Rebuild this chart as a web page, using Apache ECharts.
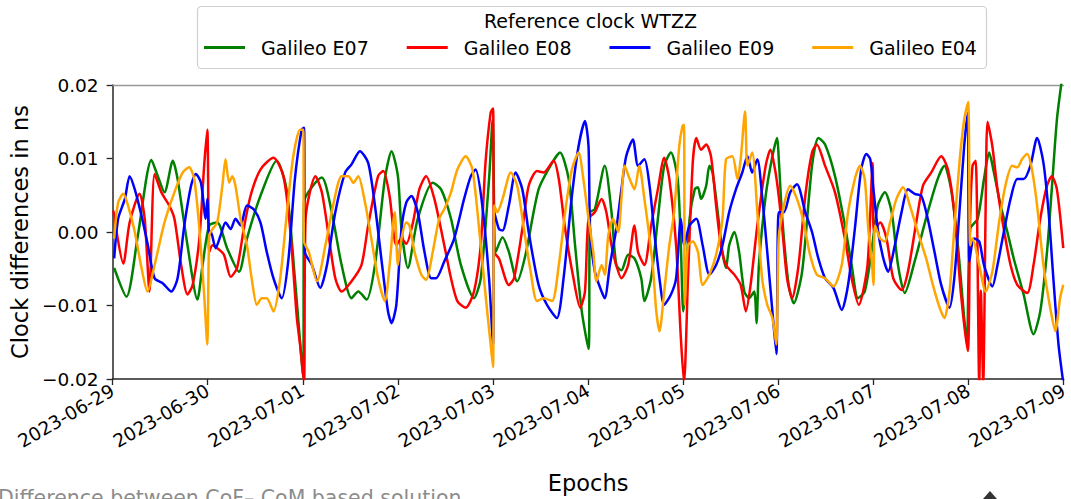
<!DOCTYPE html>
<html>
<head>
<meta charset="utf-8">
<script src="https://cdn.jsdelivr.net/npm/echarts@6/dist/echarts.min.js"></script>
<style>
html,body{margin:0;padding:0;background:#fff;}
#chart{width:1071px;height:499px;}
</style>
</head>
<body>
<div id="chart"></div>
<script>
// ---- data: [hours since 2023-06-29 00:00, clock difference in ns] ----
const e07 = [[0.4,-0.0049],[3.5,-0.0088],[6.4,-0.0004],[9.8,0.0098],[11.4,0.0076],[13.1,0.0054],[15.2,0.0097],[16.4,0.0072],[18.9,-0.0018],[21.4,-0.0092],[22.7,-0.0045],[24.4,0.0009],[26.4,0.0013],[28.9,-0.0022],[31.9,-0.0054],[33.9,-0.0009],[37.3,0.0049],[41.4,0.0097],[43.9,0.0058],[46.0,-0.0063],[48.1,-0.0198],[48.3,0.0040],[52.8,0.0074],[55.3,0.0027],[57.8,-0.0045],[60.3,-0.0090],[62.0,-0.0081],[64.1,-0.0092],[66.2,-0.0045],[68.7,0.0072],[70.4,0.0110],[72.0,0.0076],[72.9,0.0004],[74.5,-0.0049],[77.0,0.0018],[80.8,0.0067],[82.9,0.0058],[85.4,0.0018],[87.9,-0.0045],[91.2,-0.0090],[92.9,-0.0063],[95.0,0.0072],[95.9,0.0153],[96.7,-0.0027],[98.4,-0.0007],[100.0,-0.0027],[102.1,-0.0067],[104.2,-0.0031],[107.5,0.0058],[110.9,0.0094],[112.9,0.0108],[115.1,0.0072],[116.7,-0.0018],[118.4,-0.0108],[120.1,-0.0159],[120.5,0.0027],[121.7,0.0031],[124.2,0.0090],[125.9,0.0027],[127.1,-0.0045],[128.4,-0.0052],[130.1,-0.0031],[131.7,-0.0036],[133.4,-0.0063],[134.2,-0.0094],[135.9,-0.0063],[137.6,0.0018],[139.2,0.0090],[140.9,0.0108],[142.6,0.0072],[143.4,-0.0018],[144.0,-0.0108],[145.6,0.0018],[146.9,0.0058],[147.7,0.0061],[148.5,0.0045],[149.8,0.0063],[150.6,0.0090],[151.4,0.0081],[152.7,0.0027],[153.9,-0.0027],[154.8,-0.0049],[155.6,-0.0018],[156.9,0.0000],[158.1,-0.0027],[159.4,-0.0081],[160.6,-0.0090],[161.9,-0.0081],[162.5,-0.0124],[163.1,-0.0045],[164.8,0.0049],[166.5,0.0103],[167.7,0.0128],[168.1,0.0100],[169.0,0.0018],[170.6,-0.0072],[171.9,-0.0097],[174.0,-0.0054],[176.5,0.0090],[178.1,0.0128],[179.8,0.0119],[182.3,0.0076],[184.8,0.0009],[186.5,-0.0045],[188.1,-0.0090],[189.8,-0.0081],[191.5,-0.0027],[193.1,0.0036],[194.9,0.0054],[196.6,0.0027],[198.2,-0.0045],[199.9,-0.0083],[202.4,-0.0040],[205.7,0.0027],[208.2,0.0072],[209.9,0.0090],[211.6,0.0058],[213.3,-0.0018],[214.9,-0.0117],[215.6,-0.0153],[216.4,0.0004],[218.3,0.0018],[219.9,0.0072],[221.2,0.0108],[222.4,0.0081],[224.1,0.0036],[225.8,0.0000],[227.4,-0.0036],[229.9,-0.0085],[232.4,-0.0139],[234.1,-0.0108],[235.8,-0.0027],[237.0,0.0058],[238.3,0.0153],[239.5,0.0205]];

const e08 = [[0.2,0.0029],[2.7,-0.0043],[4.3,0.0013],[6.8,0.0052],[8.1,0.0018],[9.3,-0.0081],[10.6,0.0079],[12.3,0.0054],[14.3,0.0036],[15.6,0.0018],[17.3,-0.0045],[18.9,-0.0085],[20.2,-0.0072],[21.9,-0.0009],[23.1,0.0090],[23.9,0.0139],[24.4,-0.0027],[25.2,-0.0018],[26.4,-0.0022],[28.1,-0.0031],[29.8,-0.0061],[31.4,-0.0049],[33.1,0.0004],[34.8,0.0049],[37.3,0.0085],[40.6,0.0101],[43.1,0.0076],[44.8,0.0004],[46.5,-0.0117],[47.3,-0.0153],[48.3,-0.0205],[48.7,0.0018],[51.2,0.0076],[52.8,0.0054],[54.5,-0.0004],[56.2,-0.0063],[57.8,-0.0081],[60.3,-0.0067],[62.8,-0.0045],[64.5,0.0009],[67.0,0.0076],[68.3,0.0083],[69.9,0.0049],[71.6,-0.0018],[72.9,-0.0009],[74.1,-0.0016],[75.8,0.0013],[77.4,0.0058],[79.1,0.0076],[81.2,0.0045],[83.7,-0.0018],[85.4,-0.0063],[87.0,-0.0094],[89.1,-0.0103],[91.2,-0.0081],[92.9,-0.0018],[94.1,0.0094],[95.4,0.0162],[96.0,0.0168],[96.3,-0.0027],[97.5,-0.0036],[100.0,-0.0072],[101.3,-0.0063],[103.4,0.0004],[105.0,0.0063],[107.1,0.0083],[108.8,0.0081],[111.3,0.0097],[112.6,0.0072],[114.2,0.0004],[116.3,-0.0063],[118.0,-0.0103],[119.2,-0.0081],[120.1,0.0018],[121.7,0.0027],[123.4,0.0045],[124.6,0.0027],[125.9,-0.0018],[127.1,-0.0045],[128.4,-0.0063],[130.1,-0.0045],[131.7,0.0009],[132.6,-0.0027],[134.2,-0.0045],[135.9,0.0009],[137.6,0.0058],[139.2,0.0101],[140.5,0.0072],[142.2,-0.0018],[143.4,-0.0144],[144.2,-0.0205],[145.2,-0.0063],[146.4,0.0094],[147.3,0.0128],[148.5,0.0112],[149.8,0.0119],[151.0,0.0103],[152.3,0.0036],[153.5,-0.0018],[154.8,-0.0045],[156.9,-0.0058],[158.5,-0.0072],[159.8,-0.0108],[161.0,-0.0072],[162.7,0.0009],[164.8,0.0090],[166.0,0.0112],[167.3,0.0081],[168.1,0.0049],[169.0,0.0004],[170.2,-0.0063],[171.5,-0.0090],[173.1,-0.0045],[174.8,0.0049],[176.5,0.0108],[177.7,0.0119],[179.8,0.0090],[182.3,0.0054],[184.8,-0.0009],[186.5,-0.0063],[188.3,-0.0099],[190.5,-0.0045],[191.8,0.0094],[192.1,0.0000],[193.7,0.0013],[195.3,-0.0009],[197.0,-0.0063],[199.1,-0.0079],[200.7,-0.0054],[202.8,0.0013],[204.5,0.0063],[206.6,0.0081],[209.1,0.0103],[210.8,0.0085],[212.4,0.0027],[214.1,-0.0085],[215.8,-0.0162],[216.4,0.0018],[217.0,0.0090],[217.8,0.0097],[218.7,-0.0205],[219.1,-0.0080],[219.7,-0.0205],[220.3,0.0027],[220.8,0.0150],[222.0,0.0117],[223.3,0.0058],[224.9,0.0004],[226.6,-0.0045],[228.3,-0.0072],[230.8,-0.0083],[232.4,-0.0045],[234.1,0.0018],[235.8,0.0063],[237.0,0.0076],[238.3,0.0058],[239.9,-0.0022]];

const e09 = [[0.4,-0.0036],[1.4,0.0018],[3.1,0.0045],[4.3,0.0076],[5.6,0.0058],[7.3,0.0022],[8.9,-0.0018],[10.6,-0.0063],[12.7,-0.0070],[14.8,-0.0081],[16.4,-0.0063],[18.1,0.0009],[19.8,0.0063],[21.0,0.0079],[22.3,0.0067],[23.5,0.0018],[23.9,0.0045],[24.4,-0.0004],[24.8,0.0000],[26.0,-0.0022],[27.3,-0.0004],[28.5,0.0013],[29.8,0.0004],[31.0,0.0018],[32.3,0.0009],[33.9,0.0036],[35.6,0.0031],[37.3,0.0013],[38.9,-0.0027],[40.6,-0.0063],[42.7,-0.0090],[44.4,-0.0036],[46.0,0.0072],[47.7,0.0139],[48.3,0.0142],[48.5,-0.0027],[50.3,-0.0045],[52.4,-0.0076],[54.1,-0.0045],[56.2,0.0027],[58.7,0.0081],[60.3,0.0092],[62.4,0.0110],[64.5,0.0094],[66.2,0.0036],[67.9,-0.0040],[69.5,-0.0108],[70.4,-0.0124],[71.6,-0.0099],[72.9,0.0004],[74.1,0.0040],[75.4,0.0049],[77.0,0.0027],[78.7,-0.0027],[80.4,-0.0063],[81.6,-0.0063],[83.7,-0.0040],[86.2,-0.0009],[88.7,0.0045],[90.4,0.0076],[91.6,0.0085],[93.3,0.0036],[95.0,-0.0063],[96.0,-0.0153],[96.3,0.0027],[97.5,0.0004],[98.4,0.0002],[100.0,0.0036],[101.7,0.0081],[103.4,0.0058],[105.0,0.0000],[107.5,-0.0072],[109.6,-0.0099],[112.1,-0.0117],[113.8,-0.0063],[115.9,0.0049],[117.6,0.0117],[119.2,0.0151],[120.1,0.0117],[120.5,0.0004],[121.7,-0.0054],[123.4,-0.0081],[124.2,-0.0090],[125.5,-0.0045],[127.1,0.0004],[128.4,0.0058],[129.6,0.0103],[131.3,0.0126],[132.6,0.0090],[134.2,0.0099],[135.5,0.0063],[136.7,0.0000],[138.0,-0.0063],[139.2,-0.0099],[140.9,-0.0085],[142.2,-0.0063],[143.4,0.0018],[144.2,-0.0018],[145.6,0.0009],[147.3,0.0018],[148.9,-0.0018],[150.6,-0.0058],[152.3,-0.0045],[153.9,-0.0018],[155.6,0.0027],[157.3,0.0058],[158.9,0.0081],[160.2,0.0103],[161.4,0.0081],[162.7,0.0099],[163.9,0.0049],[165.2,-0.0027],[166.5,-0.0108],[167.5,-0.0166],[168.1,0.0027],[169.4,0.0027],[171.0,0.0054],[172.7,0.0065],[174.8,0.0027],[176.5,0.0000],[178.1,-0.0036],[179.8,-0.0063],[181.9,-0.0076],[184.0,-0.0106],[185.6,-0.0072],[187.3,0.0004],[188.9,0.0085],[190.2,0.0106],[191.2,0.0099],[192.0,0.0058],[193.2,0.0000],[194.5,-0.0036],[195.7,-0.0054],[197.4,-0.0018],[199.1,0.0027],[200.7,0.0058],[202.4,0.0052],[204.1,0.0049],[205.7,0.0018],[207.4,-0.0027],[209.1,-0.0072],[211.2,-0.0103],[212.4,-0.0063],[213.7,0.0027],[214.9,0.0117],[215.8,0.0162],[216.2,-0.0040],[217.4,-0.0009],[218.7,-0.0013],[219.9,-0.0045],[222.0,-0.0074],[223.3,-0.0045],[224.9,0.0000],[226.6,0.0045],[228.3,0.0072],[229.9,0.0072],[231.6,0.0090],[233.3,0.0128],[234.9,0.0094],[236.2,0.0027],[237.4,-0.0063],[238.7,-0.0153],[239.9,-0.0205]];

const e04 = [[0.4,-0.0009],[1.4,0.0040],[2.7,0.0052],[3.9,0.0036],[5.6,0.0000],[7.3,-0.0049],[8.8,-0.0081],[10.6,-0.0045],[13.1,0.0013],[15.6,0.0054],[17.7,0.0081],[19.3,0.0088],[20.6,0.0072],[21.9,0.0004],[23.1,-0.0085],[23.9,-0.0153],[24.4,-0.0004],[25.2,0.0004],[26.4,0.0013],[27.7,0.0063],[28.5,0.0099],[29.4,0.0067],[30.2,0.0076],[31.0,0.0063],[32.3,0.0018],[33.9,-0.0018],[35.2,-0.0067],[36.4,-0.0099],[37.7,-0.0090],[38.9,-0.0090],[40.6,-0.0108],[42.3,-0.0063],[44.0,0.0027],[45.6,0.0103],[47.3,0.0139],[48.1,0.0139],[48.3,-0.0013],[49.5,-0.0027],[51.6,-0.0067],[53.7,-0.0018],[55.8,0.0040],[57.8,0.0076],[59.5,0.0076],[60.8,0.0067],[62.0,0.0076],[63.7,0.0040],[65.3,-0.0009],[67.0,-0.0063],[68.7,-0.0094],[69.9,-0.0045],[71.2,0.0027],[72.0,-0.0045],[72.9,-0.0009],[74.1,0.0013],[74.9,0.0009],[76.2,-0.0027],[77.9,-0.0058],[79.1,-0.0065],[80.8,-0.0027],[82.4,0.0018],[83.7,0.0031],[85.4,0.0054],[87.0,0.0085],[89.1,0.0103],[90.8,0.0085],[92.5,0.0004],[94.1,-0.0085],[95.4,-0.0153],[96.0,-0.0184],[96.3,0.0036],[97.1,0.0027],[98.4,0.0045],[100.5,0.0081],[102.1,0.0063],[103.8,0.0004],[105.5,-0.0054],[107.1,-0.0094],[108.8,-0.0090],[110.9,-0.0094],[112.6,-0.0045],[114.2,0.0027],[115.9,0.0085],[117.6,0.0108],[118.8,0.0072],[120.1,0.0018],[121.3,-0.0027],[122.1,-0.0067],[123.4,-0.0045],[124.2,-0.0058],[125.1,-0.0004],[126.3,0.0018],[127.6,0.0000],[128.4,0.0045],[129.2,0.0090],[130.5,0.0072],[131.7,0.0058],[132.9,0.0090],[134.2,0.0045],[135.1,0.0009],[136.3,-0.0045],[137.2,-0.0108],[138.0,-0.0135],[139.2,-0.0081],[140.5,-0.0018],[141.7,0.0027],[143.0,0.0117],[143.8,0.0144],[144.2,0.0146],[144.4,-0.0099],[145.2,-0.0018],[146.4,-0.0013],[147.7,-0.0027],[148.9,-0.0072],[150.6,-0.0058],[152.3,-0.0031],[153.9,0.0018],[154.8,0.0099],[156.4,0.0103],[157.7,0.0072],[158.5,0.0099],[159.6,0.0164],[160.2,0.0090],[161.4,0.0108],[162.7,0.0027],[163.9,-0.0063],[165.2,-0.0099],[166.5,-0.0117],[167.5,-0.0153],[168.1,-0.0009],[169.4,0.0036],[171.0,0.0063],[172.7,0.0045],[174.4,0.0013],[176.0,-0.0031],[177.7,-0.0058],[179.8,-0.0063],[181.9,-0.0074],[184.0,-0.0045],[185.6,0.0027],[187.3,0.0072],[188.6,0.0090],[189.8,0.0072],[190.7,0.0004],[191.6,-0.0040],[192.0,-0.0072],[192.4,0.0009],[193.7,-0.0009],[194.9,-0.0013],[196.2,0.0013],[197.8,0.0045],[199.5,0.0061],[201.2,0.0036],[203.2,0.0000],[205.3,-0.0036],[207.0,-0.0072],[208.7,-0.0103],[209.9,-0.0117],[211.2,-0.0081],[212.4,0.0004],[213.7,0.0094],[214.9,0.0153],[215.9,0.0177],[216.4,-0.0018],[217.0,-0.0009],[218.7,-0.0045],[220.3,-0.0081],[222.0,-0.0054],[223.7,0.0013],[225.3,0.0063],[227.0,0.0090],[228.3,0.0088],[229.5,0.0099],[230.8,0.0106],[232.0,0.0085],[233.3,0.0036],[234.9,-0.0045],[236.6,-0.0103],[237.9,-0.0135],[239.1,-0.0090],[239.9,-0.0072]];

const seriesNames = ['Galileo E07', 'Galileo E08', 'Galileo E09', 'Galileo E04'];
const seriesColors = ['#008000', '#ff0000', '#0000ff', '#ffa500'];
const xTickLabels = ['2023-06-29','2023-06-30','2023-07-01','2023-07-02','2023-07-03','2023-07-04','2023-07-05','2023-07-06','2023-07-07','2023-07-08','2023-07-09'];
const yTickValues = [-0.02, -0.01, 0.0, 0.01, 0.02];
const yTickLabels = ['\u22120.02', '\u22120.01', '0.00', '0.01', '0.02'];
const legendTitle = 'Reference clock WTZZ';
const xAxisTitle = 'Epochs';
const yAxisTitle = 'Clock differences in ns';
const captionText = 'Difference between CoF\u2013 CoM based solution';

const FONT = 'DejaVu Sans';
const chart = echarts.init(document.getElementById('chart'), null, {renderer: 'svg'});
const allData = [e07, e08, e09, e04];

const option = {
  animation: false,
  backgroundColor: '#ffffff',
  grid: {left: 112, right: 2, top: 85, bottom: 117.5, containLabel: false},
  legend: {
    data: seriesNames,
    icon: 'rect',
    left: 204,
    top: 38,
    itemWidth: 41,
    itemHeight: 3,
    itemGap: 38,
    padding: 0,
    textStyle: {fontFamily: FONT, fontSize: 19, color: '#000', padding: [0, 0, 0, 11]}
  },
  xAxis: [{
    type: 'value',
    min: 0, max: 240, interval: 24,
    name: xAxisTitle,
    nameLocation: 'middle',
    nameGap: 92,
    nameTextStyle: {fontFamily: FONT, fontSize: 22.5, color: '#000'},
    axisLine: {show: true, onZero: false, lineStyle: {color: '#262626', width: 1.5}},
    axisTick: {show: true, length: 6, lineStyle: {color: '#262626', width: 1.3}},
    splitLine: {show: false},
    axisLabel: {
      rotate: 30, margin: 10,
      fontFamily: FONT, fontSize: 18.5, color: '#000',
      formatter: v => xTickLabels[Math.round(v / 24)] || ''
    }
  }, {
    type: 'value', position: 'top',
    min: 0, max: 240,
    axisLine: {show: true, onZero: false, lineStyle: {color: '#999', width: 1.3}},
    axisTick: {show: false}, axisLabel: {show: false}, splitLine: {show: false}
  }],
  yAxis: {
    type: 'value',
    min: -0.02, max: 0.02, interval: 0.01,
    name: yAxisTitle,
    nameLocation: 'middle',
    nameGap: 76,
    nameTextStyle: {fontFamily: FONT, fontSize: 22.5, color: '#000'},
    axisLine: {show: true, onZero: false, lineStyle: {color: '#262626', width: 1.5}},
    axisTick: {show: true, length: 6, lineStyle: {color: '#262626', width: 1.3}},
    splitLine: {show: false},
    axisLabel: {
      margin: 14, fontFamily: FONT, fontSize: 18.5, color: '#000',
      formatter: v => {
        const i = yTickValues.findIndex(t => Math.abs(t - v) < 1e-9);
        return i >= 0 ? yTickLabels[i] : '';
      }
    }
  },
  series: allData.map((d, i) => ({
    name: seriesNames[i],
    type: 'line',
    data: d,
    xAxisIndex: 0,
    symbol: 'none',
    smooth: 0.25,
    clip: true,
    color: seriesColors[i],
    lineStyle: {color: seriesColors[i], width: 2.5},
    z: 2 + i
  })),
  graphic: [
    {
      type: 'rect', z: 0, silent: true,
      shape: {x: 197.5, y: 6.5, width: 789, height: 62, r: 4},
      style: {fill: 'rgba(255,255,255,0.8)', stroke: '#d0d0d0', lineWidth: 1.2}
    },
    {
      type: 'text', z: 10, left: 592 - 108, top: 11,
      style: {text: legendTitle, font: '19px "DejaVu Sans"', fill: '#000'}
    },
    {
      type: 'text', z: 10, left: -2, top: 487,
      style: {text: captionText, font: '20.5px "DejaVu Sans"', fill: '#8c8c8c'}
    },
    {
      type: 'polygon', z: 10,
      shape: {points: [[983, 499], [990, 491], [997, 499]]},
      style: {fill: '#333'}
    }
  ]
};
chart.setOption(option);
</script>
</body>
</html>
